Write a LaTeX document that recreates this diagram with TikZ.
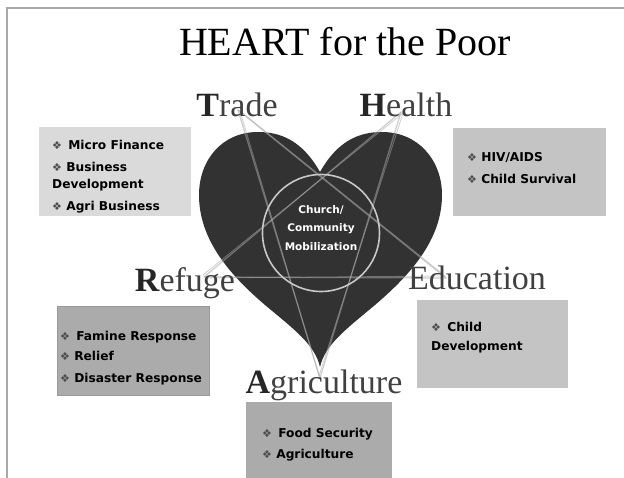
\documentclass[tikz,border=0pt]{standalone}
\usepackage{fontspec}
\usepackage{xcolor}
\setmainfont{Liberation Serif}
\newfontfamily\boxfont{DejaVu Sans}
\usetikzlibrary{positioning}
\definecolor{heartgray}{HTML}{323232}
\definecolor{labelgray}{HTML}{404040}
\definecolor{framegray}{HTML}{A8A8A8}
\definecolor{circlegray}{HTML}{C8C8C8}
\definecolor{boxlight}{HTML}{DADADA}
\definecolor{boxmid}{HTML}{C4C4C4}
\definecolor{boxdark}{HTML}{ABABAB}
\newcommand{\dia}{{\fontsize{11}{11}\selectfont\mdseries\textcolor{black!70}{❖}}\ }
\newcommand{\firstcap}[1]{\textbf{\textcolor{black!85}{#1}}}

\tikzset{
  listbox/.style={rectangle, anchor=north west, inner sep=0pt},
  listtext/.style={anchor=north west, inner sep=0pt, align=left,
    font=\boxfont\bfseries\fontsize{12.2}{21}\selectfont},
  arealabel/.style={anchor=base, inner sep=0pt, text=labelgray,
    font=\fontsize{34}{34}\selectfont},
  starline/.style={line width=1.3pt, draw=black!35, opacity=.55, line cap=round},
}

\begin{document}
\begin{tikzpicture}[x=1pt,y=-1pt]
\useasboundingbox (0,0) rectangle (624,478);

% frame
\draw[framegray, line width=2pt] (7,478) -- (7,8) -- (624,8);

% title
\node[anchor=base, inner sep=0pt, font=\fontsize{40}{40}\selectfont] (title) at (345,56) {HEART for the Poor};

% heart
\fill[heartgray] (320,172)
  .. controls (338,140) and (360,132) .. (382,132)
  .. controls (418,132) and (442,160) .. (442,195)
  .. controls (442,240) and (410,275) .. (375,305)
  .. controls (345,330) and (325,345) .. (320,367)
  .. controls (315,345) and (295,330) .. (265,305)
  .. controls (230,275) and (199,240) .. (199,195)
  .. controls (199,160) and (222,132) .. (258,132)
  .. controls (280,132) and (302,140) .. (320,172) -- cycle;

% star points
\coordinate (ptrade) at (238,110);
\coordinate (phealth) at (401,112);
\coordinate (pedu) at (446,278);
\coordinate (pagri) at (320,378);
\coordinate (prefuge) at (204,277);

% pentagram
\foreach \a/\b in {ptrade/pedu, ptrade/pagri, phealth/prefuge, phealth/pagri, prefuge/pedu} {
  \draw[starline] (\a) -- (\b);
  \draw[starline, line width=.8pt] ([xshift=2pt,yshift=-1pt]\a) -- ([xshift=-1pt,yshift=2pt]\b);
}

% hub
\node[circle, draw=circlegray, line width=1.6pt, minimum size=117pt, inner sep=0pt] (hub) at (321,233) {};
\node[align=center, text=white, font=\boxfont\bfseries\fontsize{10.5}{18.5}\selectfont] (hubtext) at ([yshift=5pt]hub.center) {Church/\\Community\\Mobilization};

% area labels
\node[arealabel] (trade) at (237,117) {\firstcap{T}rade};
\node[arealabel] (health) at (406,117) {\firstcap{H}ealth};
\node[arealabel] (refuge) at (185,292) {\firstcap{R}efuge};
\node[arealabel] (edu) at (477,290) {Education};
\node[arealabel] (agri) at (324,393) {\firstcap{A}griculture};

% lists
\node[listbox, fill=boxlight, minimum width=152pt, minimum height=89pt] (tradebox) at (39,127) {};
\node[listtext, below right=13pt and 13pt of tradebox.north west] (tradelist)
  {\dia\hspace{2pt}Micro Finance\\[1pt]\dia Business\\[-4pt]Development\\[1pt]\dia Agri Business};

\node[listbox, fill=boxmid, minimum width=153pt, minimum height=88pt] (healthbox) at (453,128) {};
\node[listtext, below right=24pt and 14pt of healthbox.north west] (healthlist)
  {\dia HIV/AIDS\\[1pt]\dia Child Survival};

\node[listbox, fill=boxdark, draw=black!40, line width=.4pt, minimum width=152pt, minimum height=89pt] (refugebox) at (57,306) {};
\node[listtext, below right=25pt and 3pt of refugebox.north west] (refugelist)
  {\dia\hspace{2pt}Famine Response\\[-1pt]\dia Relief\\[1pt]\dia Disaster Response};

\node[listbox, fill=boxmid, minimum width=151pt, minimum height=88pt] (edubox) at (417,300) {};
\node[listtext, below right=22pt and 14pt of edubox.north west] (edulist)
  {\dia\hspace{2pt}Child\\[-2pt]Development};

\node[listbox, fill=boxdark, minimum width=146pt, minimum height=77pt] (agribox) at (246,402) {};
\node[listtext, below right=26pt and 16pt of agribox.north west] (agrilist)
  {\dia\hspace{2pt}Food Security\\\dia Agriculture};
\end{tikzpicture}
\end{document}
